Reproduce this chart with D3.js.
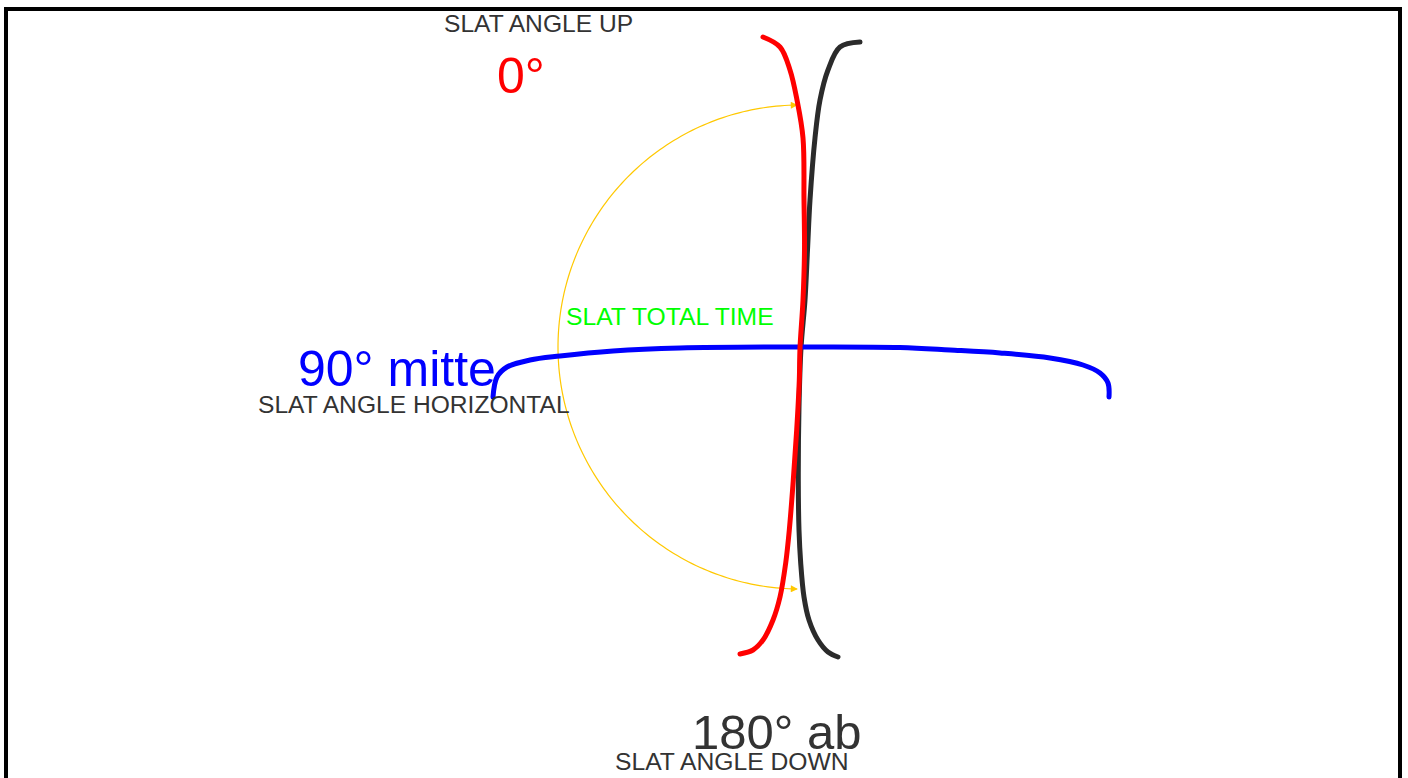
<!DOCTYPE html>
<html>
<head>
<meta charset="utf-8">
<script src="https://cdn.jsdelivr.net/npm/d3@7"></script>
<style>
  html, body { margin: 0; padding: 0; background: #fff; overflow: hidden; }
  text { font-family: "Liberation Sans", Arial, sans-serif; }
</style>
</head>
<body>
<svg id="chart" width="1408" height="778"></svg>
<script>
// ---- data (units: offset from the pivot point, y up) ----
const redSlatX   = [-37, -20, -10, -3, 3, 4, 4.5, 3, 0, -0.7, -3.3, -6.7, -10.7, -14.3, -20, -27, -37, -47, -60];
const redSlatY   = [310, 300, 277, 247, 209, 147, 97, 47, -1, -33, -83, -133, -183, -216, -250, -273, -293, -303, -307];
const blackSlatX = [60, 40, 28, 20, 15, 10, 7.5, 5, 1, -1, -1.7, -1, 0.7, 4, 9, 18, 28, 38];
const blackSlatY = [305, 300, 277, 247, 209, 147, 97, 47, -1, -60, -133, -183, -216, -250, -273, -293, -305, -310];
const blueSlatX  = [-307, -303, -293, -270, -240, -187, -120, 0, 100, 150, 200, 250, 283, 300, 308, 309];
const blueSlatY  = [-50, -30, -20, -13, -9, -4, -1, 0, -0.5, -3, -6, -11, -18, -26, -36, -50];
const arcRadius  = [242];
const arcAngles  = [-0.012, -Math.PI + 0.012];   // radians, from top round the left side to bottom
const labelTexts = ["SLAT ANGLE UP", "0°", "SLAT TOTAL TIME", "90° mitte", "SLAT ANGLE HORIZONTAL", "180° ab", "SLAT ANGLE DOWN"];

// ---- layout ----
const W = 1408, H = 778;
const svg = d3.select("#chart");
const x = d3.scaleLinear().domain([-800, 608]).range([0, W]);
const y = d3.scaleLinear().domain([347, -431]).range([0, H]);

// frame
svg.append("rect")
  .attr("x", 6).attr("y", 9).attr("width", 1394).attr("height", 800)
  .attr("fill", "none").attr("stroke", "#000").attr("stroke-width", 4);

const line = d3.line().x(d => x(d[0])).y(d => y(d[1])).curve(d3.curveCatmullRom.alpha(0.5));
const zip = (a, b) => a.map((v, i) => [v, b[i]]);

// arrow marker
const defs = svg.append("defs");
defs.append("marker")
  .attr("id", "arrow").attr("viewBox", "0 0 10 10")
  .attr("refX", 9).attr("refY", 5)
  .attr("markerWidth", 8).attr("markerHeight", 7)
  .attr("markerUnits", "userSpaceOnUse")
  .attr("orient", "auto-start-reverse")
  .append("path").attr("d", "M0,0 L10,5 L0,10 z").attr("fill", "#ffc800");

// yellow arc (semicircle on left)
const arcPts = d3.range(0, 181).map(i => {
  const a = arcAngles[0] + (arcAngles[1] - arcAngles[0]) * i / 180;
  return [arcRadius[0] * Math.sin(a), arcRadius[0] * Math.cos(a)];
});
svg.append("path")
  .attr("d", d3.line().x(d => x(d[0])).y(d => y(d[1]))(arcPts))
  .attr("fill", "none").attr("stroke", "#ffc800").attr("stroke-width", 1.2)
  .attr("marker-start", "url(#arrow)").attr("marker-end", "url(#arrow)");

// slats
const slat = (xs, ys, color) => svg.append("path")
  .attr("d", line(zip(xs, ys)))
  .attr("fill", "none").attr("stroke", color).attr("stroke-width", 5)
  .attr("stroke-linecap", "round").attr("stroke-linejoin", "round");

slat(blackSlatX, blackSlatY, "#2b2b2b");
slat(blueSlatX, blueSlatY, "#0000ff");
slat(redSlatX, redSlatY, "#ff0000");

// labels
const labelLayout = [
  { x: 444, y: 32,  size: 24.6, color: "#333" },
  { x: 497, y: 93,  size: 50,   color: "#ff0000" },
  { x: 566, y: 325, size: 24.7, color: "#00ff00" },
  { x: 298, y: 386, size: 50,   color: "#0000ff" },
  { x: 258, y: 413, size: 24.6, color: "#333" },
  { x: 692, y: 749, size: 49,   color: "#333" },
  { x: 615, y: 770, size: 24.7, color: "#333" }
];
svg.selectAll("text.lbl").data(labelTexts).join("text")
  .attr("class", "lbl")
  .attr("x", (d, i) => labelLayout[i].x)
  .attr("y", (d, i) => labelLayout[i].y)
  .attr("font-size", (d, i) => labelLayout[i].size)
  .attr("fill", (d, i) => labelLayout[i].color)
  .text(d => d);
</script>
</body>
</html>
